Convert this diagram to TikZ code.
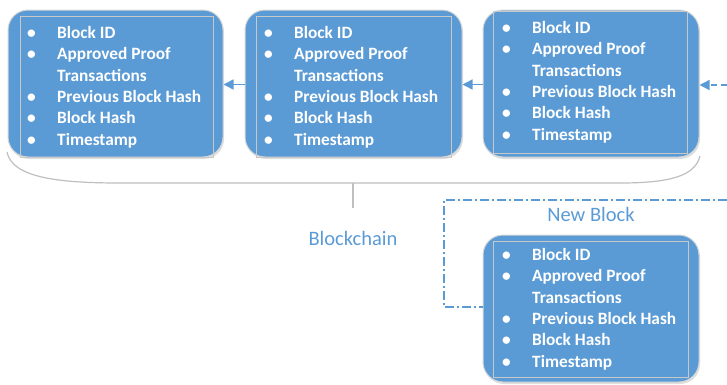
\documentclass[tikz,border=0pt]{standalone}
\usepackage{fontspec}
\setmainfont{Carlito}
\usetikzlibrary{arrows.meta,shadows,calc}
\definecolor{blk}{HTML}{5B9BD5}
\definecolor{edgegray}{HTML}{D6D6D6}
\definecolor{innergray}{HTML}{C8C8C8}
\definecolor{bracegray}{HTML}{BFBFBF}
\tikzset{
 blockbox/.style={draw=edgegray, line width=1pt, fill=blk, rounded corners=20pt, inner sep=0pt,
   drop shadow={shadow xshift=1pt,shadow yshift=-2pt,opacity=0.25}},
 innerbox/.style={draw=innergray, line width=0.8pt, inner sep=0pt},
 items/.style={anchor=base west, inner sep=0pt, text=white, font=\fontsize{17.3}{21.3}\selectfont\bfseries},
 arr/.style={draw=blk, line width=1.4pt, -{Triangle[length=10pt,width=10pt]}},
 dasharr/.style={arr, dash pattern=on 6pt off 4pt},
 framedd/.style={draw=blk, line width=1.2pt, dash pattern=on 9pt off 3pt on 2pt off 3pt},
 bracket/.style={draw=bracegray, line width=1.2pt},
 lbl/.style={text=blk, font=\fontsize{20.5}{24}\selectfont},
}
\newcommand\blockitems{%
\begin{tabular}[t]{@{}p{30pt}@{}l@{}}
\textbullet & Block ID\\
\textbullet & Approved Proof\\
 & Transactions\\
\textbullet & Previous Block Hash\\
\textbullet & Block Hash\\
\textbullet & Timestamp
\end{tabular}}
\begin{document}
\begin{tikzpicture}[x=1pt,y=-1pt]
\useasboundingbox (0,0) rectangle (727,384);
% bracket under the chain
\coordinate (brL) at (7,152);
\coordinate (brR) at (700,156);
\coordinate (brM) at (353,183);
\coordinate (brT) at (353,208);
\draw[bracket] (brL) .. controls (12,178) and (60,183) .. (120,183) -- (620,183)
   .. controls (670,183) and (695,176) .. (brR);
\draw[bracket] (brM) -- (brT);
\node[lbl] (chainlbl) at (353,238) {Blockchain};
% new block frame
\coordinate (frTR) at (727,200);
\coordinate (frTL) at (444,200);
\coordinate (frBL) at (444,307);
\node[lbl] (newlbl) at (591,214) {New Block};
% blocks
\node[blockbox, minimum width=215pt, minimum height=147pt] (b1) at (115.5,83.5) {};
\node[blockbox, minimum width=217pt, minimum height=147pt] (b2) at (353.5,83.5) {};
\node[blockbox, minimum width=216pt, minimum height=147pt] (b3) at (591,83.5) {};
\node[blockbox, minimum width=216pt, minimum height=147pt] (nb) at (591,308.5) {};
\node[innerbox, minimum width=193pt, minimum height=141pt] (i1) at (116.5,86.5) {};
\node[innerbox, minimum width=195pt, minimum height=141pt] (i2) at (353.5,86.5) {};
\node[innerbox, minimum width=194pt, minimum height=142pt] (i3) at (590,82) {};
\node[innerbox, minimum width=195pt, minimum height=136pt] (i4) at (590.5,309) {};
\node[items] (t1) at (27,38.5) {\blockitems};
\node[items] (t2) at (264,38.5) {\blockitems};
\node[items] (t3) at (502,33.5) {\blockitems};
\node[items] (t4) at (502,260.5) {\blockitems};
% frame
\draw[framedd] (frTR) -- (frTL) -- (frBL) -- (frBL -| nb.west);
% arrows
\coordinate (inR) at (727,85);
\draw[arr] ($(b2.west)+(0,1)$) -- ($(b1.east)+(0,1)$);
\draw[arr] ($(b3.west)+(0,1)$) -- ($(b2.east)+(0,1)$);
\draw[dasharr] (inR) -- (inR -| b3.east);
\end{tikzpicture}
\end{document}
